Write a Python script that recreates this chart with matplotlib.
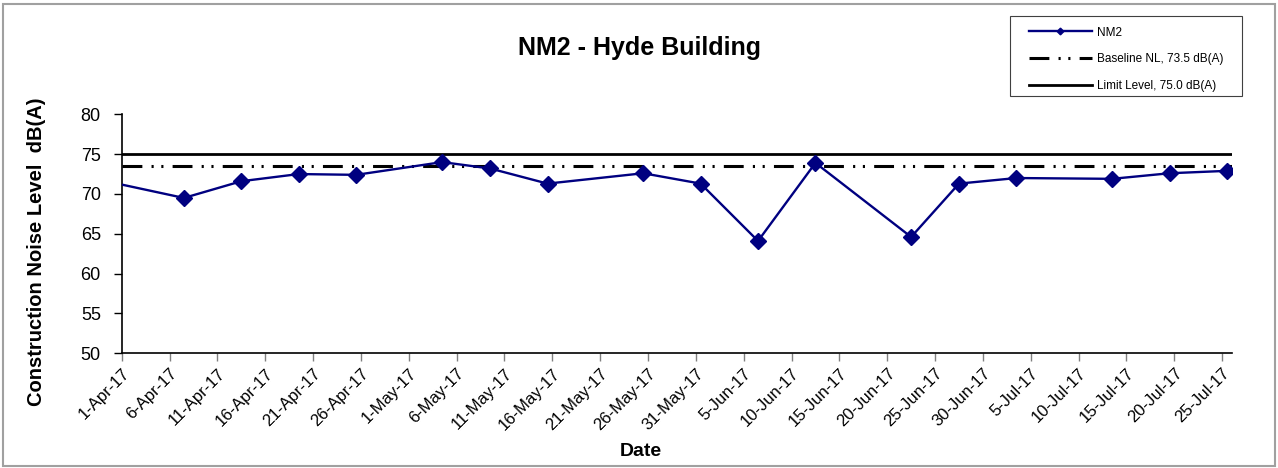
import pandas as pd
import matplotlib
matplotlib.use('Agg')
import matplotlib.pyplot as plt
import matplotlib.dates as mdates
from matplotlib.patches import Rectangle

plt.rcParams['font.family'] = ['Liberation Sans', 'DejaVu Sans']

# NM2 measured construction noise levels
dates = ['2017-03-26', '2017-04-07', '2017-04-13', '2017-04-19', '2017-04-25',
         '2017-05-04', '2017-05-09', '2017-05-15', '2017-05-25', '2017-05-31',
         '2017-06-06', '2017-06-12', '2017-06-22', '2017-06-27', '2017-07-03',
         '2017-07-13', '2017-07-19', '2017-07-25']
levels = [72.6, 69.5, 71.6, 72.5, 72.4,
          74.0, 73.2, 71.3, 72.6, 71.3,
          64.1, 73.9, 64.6, 71.3, 72.0,
          71.9, 72.6, 72.9]

baseline = 73.5
limit = 75.0
x_start, x_end = '2017-04-01', '2017-07-26'
y_ticks = [50, 55, 60, 65, 70, 75, 80]

W, H = 1278, 468
fig = plt.figure(figsize=(W / 100, H / 100), dpi=100)
ax = fig.add_axes([121.7 / W, 1 - 353.3 / H, (1231.7 - 121.7) / W, (353.3 - 114.3) / H])

# Excel date axis "between tick marks": points sit mid-day
x = pd.to_datetime(dates) + pd.Timedelta(hours=12)

ax.plot(x, levels, color='#000080', lw=1.7, marker='D', markersize=8.5,
        markerfacecolor='#000080', markeredgecolor='#000080', label='NM2', zorder=3)
ax.axhline(baseline, color='black', lw=2.2,
           linestyle=(0, (6.5, 3, 0.7, 2.5, 0.7, 3)),
           label='Baseline NL, 73.5 dB(A)', zorder=2)
ax.axhline(limit, color='black', lw=2.0, label='Limit Level, 75.0 dB(A)', zorder=2)

ax.set_xlim(pd.Timestamp(x_start), pd.Timestamp(x_end))
ax.set_ylim(50, 80)
ax.set_yticks(y_ticks)

ticks = pd.date_range(x_start, '2017-07-25', freq='5D')
ax.set_xticks(ticks)
ax.xaxis.set_major_formatter(mdates.DateFormatter('%-d-%b-%y'))
for lab in ax.get_xticklabels():
    lab.set_rotation(45)
    lab.set_ha('right')
    lab.set_va('top')
    lab.set_rotation_mode('anchor')

ax.tick_params(axis='y', labelsize=13, length=6, width=1, pad=9, direction='out')
ax.tick_params(axis='x', labelsize=12, length=6, width=1, pad=3, direction='out', color='#808080')

for s in ['top', 'right']:
    ax.spines[s].set_visible(False)
for s in ['left', 'bottom']:
    ax.spines[s].set_linewidth(1.2)
    ax.spines[s].set_color('black')

fig.text(640 / W, 1 - 48 / H, 'NM2 - Hyde Building', fontsize=18, fontweight='bold',
         ha='center', va='center')
fig.text(641 / W, 1 - 452 / H, 'Date', fontsize=14, fontweight='bold',
         ha='center', va='center')
fig.text(37 / W, 1 - 252 / H, 'Construction Noise Level  dB(A)', fontsize=14.5,
         fontweight='bold', rotation=90, ha='center', va='center')

# legend box drawn separately, entries placed inside it
fig.patches.append(Rectangle((1010 / W, 1 - 96 / H), 232 / W, 80 / H,
                             transform=fig.transFigure, facecolor='white',
                             edgecolor='#404040', lw=0.8, zorder=4))
leg = fig.legend(loc='upper left', bbox_to_anchor=(1029 / W, 1 - 26.5 / H),
                 borderaxespad=0, borderpad=0, frameon=False,
                 fontsize=8.5, handlelength=5.3, handletextpad=0.45,
                 labelspacing=1.27, markerscale=0.4)
leg.set_zorder(5)

# chart area border
fig.patches.append(Rectangle((3 / W, 2 / H), (W - 6) / W, (H - 6) / H,
                             transform=fig.transFigure, fill=False,
                             edgecolor='#a0a0a0', lw=1.5))

fig.savefig('out.png', dpi=100)
